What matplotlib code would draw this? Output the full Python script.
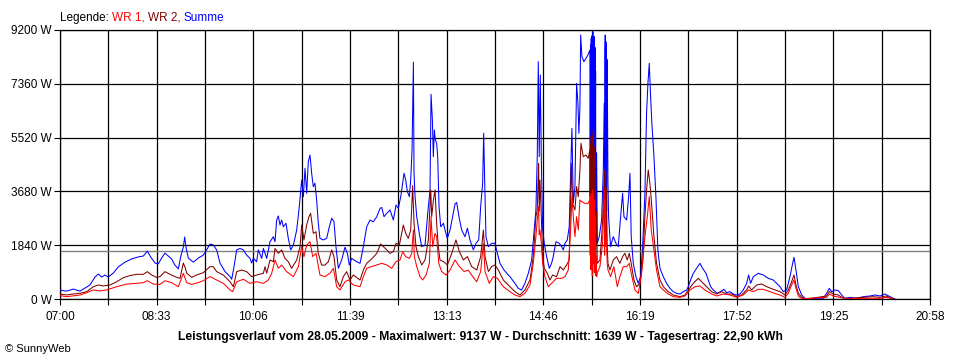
import matplotlib
matplotlib.use('Agg')
import matplotlib.pyplot as plt
import numpy as np

plt.rcParams['font.family'] = ['Liberation Sans', 'DejaVu Sans']
plt.rcParams['font.size'] = 8.5

# ---- data (minutes after 07:00, W) ----
t_sum = [0, 6.4, 12.8, 19.3, 24.1, 28.9, 33.7, 36.9, 40.1, 43.3, 46.5, 51.4, 56.2, 62.6, 69.0, 75.4, 80.3, 84.1,
         87.3, 91.5, 94.7, 97.9, 101.1, 104.3, 107.5, 110.7, 114.0, 116.2, 118.8, 120.1, 121.3, 123.6, 128.4,
         133.2, 138.0, 141.2,
         144.5, 147.7, 150.9, 154.1, 159.0, 163.8, 165.4, 167.6, 170.2, 173.4, 176.6, 179.8, 183.0, 184.6, 186.2,
         189.4, 191.0, 194.3, 195.9, 199.1, 202.3, 205.5, 207.1, 208.7, 210.3, 211.9, 213.5, 215.1, 217.7, 219.9,
         222.2, 224.8, 228.0, 230.5, 232.8, 234.4, 236.0, 237.6, 239.2, 240.8, 242.4, 244.0, 245.6, 247.2, 248.8,
         250.4, 253.6, 256.9, 259.4, 261.7, 263.9, 265.8, 268.1, 271.3, 274.5, 276.8, 278.7, 280.9, 285.7,
         289.0, 292.2, 295.4, 298.6, 301.8, 305.1, 308.3, 309.9, 312.1, 314.7, 317.9, 321.1, 323.7, 325.9, 328.2,
         330.1, 331.4, 333.0, 334.6, 336.5, 337.8, 339.1, 339.7, 340.4, 341.0, 342.0, 343.6, 346.1, 348.4, 351.6,
         354.8, 356.4, 357.4, 358.7, 359.6, 360.6, 361.5, 362.8, 363.8, 365.1, 366.7, 369.3, 370.9, 373.1, 375.7,
         378.2, 380.5, 382.1, 384.3, 386.9, 390.1, 392.4, 394.9, 398.1, 400.7, 403.3, 405.2, 407.1, 408.1, 409.1,
         410.3, 412.6, 415.8, 419.0, 421.3, 423.8, 427.7, 431.8,
         433.4, 438.2, 441.4, 444.6, 447.8, 451.1, 454.3, 456.5, 458.4, 459.7, 460.7, 461.6, 462.6, 463.6, 464.9,
         466.5, 468.7, 471.3, 473.5, 475.1, 477.7, 480.9, 483.2, 484.8, 486.4, 488.6, 490.5, 492.1, 493.1, 494.4,
         496.0, 497.6, 498.9, 499.8, 500.8, 501.5, 502.7, 504.7, 506.6, 508.5,
         510.4, 510.7, 511.1, 511.4, 511.7, 512.0, 512.4, 512.7, 513.0, 513.3, 513.7, 514.0, 514.3, 514.6, 515.0,
         515.3, 515.6, 515.9, 516.2, 516.9, 517.5, 519.4, 521.7, 523.3,
         524.2, 524.6, 524.9, 525.2, 525.5, 525.8, 526.2, 526.5, 526.8, 527.1, 527.8, 528.4,
         530.3, 532.9, 535.5, 537.7, 540.0, 541.9, 543.2, 545.8, 547.7, 549.0, 550.2, 552.2, 554.7, 557.0, 559.2,
         561.2, 563.4, 565.0, 566.3, 567.6, 568.9, 570.1, 572.1, 574.0, 575.9,
         577.9, 581.1, 584.3, 587.5, 590.7, 594.0, 597.2, 600.4, 603.6, 605.2, 607.4, 610.0, 613.2, 616.4, 619.0,
         622.2, 624.4, 626.7, 629.3, 633.1, 636.3, 639.5, 642.1, 645.3, 648.5, 651.7, 654.9, 658.1, 661.4, 663.3,
         665.2, 667.8, 672.6, 677.4, 682.2, 687.0, 690.2,
         693.5, 696.7, 699.9, 703.1, 705.7, 707.0, 708.9, 711.2, 714.4, 717.6, 722.4, 728.8, 735.2, 738.4, 741.0,
         743.3, 746.5, 749.7, 752.9, 756.1, 760.9, 767.3, 773.8, 780.2, 785.0, 789.8, 794.6, 799.4, 804.2]
p_sum = [300, 270, 340, 270, 375, 480, 750, 855, 750, 820, 750, 890, 1100, 1260, 1370, 1440, 1470, 1640,
         1440, 1230, 1200, 1400, 1570, 1470, 1370, 1160, 1030, 1440, 1780, 2120, 1780, 1400, 1260,
         1400, 1500, 1680,
         1880, 1845, 1680, 1230, 935, 765, 675, 1105, 1680, 1730, 1680, 1500, 1390, 1230, 1390,
         1275, 1680, 1390, 1730, 1390, 1960, 2130, 1960, 2700, 2840, 2530, 2700, 2470, 2590, 2075,
         1680, 1845, 2360, 3160, 4070, 3500, 4470, 3615, 4700, 4925, 4300, 3840, 3960, 3390, 2590,
         2075, 2020, 2075, 2470, 2760, 2650, 1790, 1050, 1335, 1770, 1560, 1160, 1390, 1275,
         1220, 1790, 2470, 2700, 2640, 2815, 3100, 3130, 2815, 2930, 3045, 2700, 3215, 3100, 3500,
         3960, 4300, 4070, 3670, 3500, 4070, 5100, 6460, 8100, 4300, 3500, 2815, 2245, 1790, 1845,
         3160, 3730, 7000, 6120, 4870, 5780, 5440, 5330, 4870, 3160, 2470, 2590, 2360, 2075, 2360,
         2815, 3250, 3300, 2815, 2360, 2130, 2420, 2020, 1680, 1905, 2020, 3160, 3960, 5670, 3960,
         2130, 1790, 1905, 1905, 1560, 1220, 990, 820,
         764, 536, 365, 308, 536, 878, 1334, 2246, 3044, 4868, 8117, 4868, 7661, 4868, 2360,
         1904, 1448, 1049, 1220, 1448, 1961, 1904, 1790, 1676, 1904, 2018, 2474, 4640, 5837, 3272,
         3842, 7376, 6692, 5666, 6578, 9029, 8288, 8117, 8231, 8345,
         8516, 3500, 8700, 2500, 8915, 4640, 9000, 2000, 8800, 9137, 1800, 8400, 3500, 8972, 2200,
         8600, 4184, 7800, 1904, 5000, 1904, 2132, 2702, 4412,
         6692, 3000, 8500, 9029, 2500, 8800, 8516, 3000, 8200, 8060, 4000, 2816,
         1790, 2132, 1904, 1790, 2816, 3614, 2816, 2702, 3500, 4298, 2132, 1220, 764, 536, 764,
         1790, 3614, 6350, 7376, 8060, 6920, 6008, 4868, 3500, 1676,
         1049, 764, 536, 365, 251, 194, 171, 251, 308, 422, 650, 878, 1049, 1220, 1049,
         878, 650, 422, 308, 194, 251, 331, 217, 251, 171, 137, 171, 308, 536, 821,
         536, 764, 878, 821, 707, 650, 536,
         422, 251, 308, 764, 1220, 1425, 992, 422, 137, 23, 0, 23, 23, 194, 365,
         251, 308, 285, 137, 23, 57, 23, 80, 103, 137, 103, 171, 80, 0]

t_wr2 = [0, 6.4, 12.8, 19.3, 25.7, 32.1, 36.9, 41.7, 48.2, 54.6, 61.0, 67.4, 73.8, 80.3, 84.1, 88.3, 93.1,
         96.3, 101.1, 105.9, 110.7, 115.6, 118.8, 120.7, 122.0, 126.8, 131.6, 138.0,
         144.5, 147.7, 150.9, 157.3, 163.8, 167.0, 170.2, 175.0, 179.8, 184.6,
         189.4, 195.9, 197.5, 199.1, 202.3, 205.5, 207.1, 210.3, 213.5, 216.7,
         219.9, 223.1, 228.0, 231.2, 232.8, 235.0, 237.6, 239.8, 241.4, 244.0,
         246.6, 248.8, 252.0, 255.2, 258.5, 261.7, 263.9, 266.5, 269.7, 272.9,
         276.1, 279.3, 282.5,
         289.0, 292.2, 295.4, 300.2, 305.1, 308.9, 311.5, 314.7, 317.9, 321.1,
         323.7, 326.9, 329.1, 330.7, 333.0, 335.5, 337.8, 339.7, 341.0, 342.9,
         345.2, 348.4, 351.6, 354.8, 357.1, 358.0, 359.6, 361.2, 362.8, 364.4,
         366.0, 369.3, 373.1, 377.3, 381.4, 384.7, 388.5, 392.4, 396.5, 401.4,
         405.2, 407.8, 409.4, 412.6, 415.8, 419.0, 422.2, 427.0,
         433.4, 438.2, 443.0, 447.8, 452.7, 455.9, 458.4, 459.7, 461.0, 461.6, 462.3, 463.6, 464.9, 466.5,
         469.4, 471.9, 474.5, 478.3, 481.6, 484.8, 488.0, 490.5, 492.5, 493.7, 496.0, 497.6, 499.2, 500.8,
         501.8, 504.0, 506.6, 508.8,
         510.4, 510.7, 511.1, 511.4, 511.7, 512.0, 512.4, 512.7, 513.0, 513.3, 513.7, 514.0, 514.3, 514.6,
         515.0, 515.3, 515.6, 515.9, 516.2, 516.9, 517.5, 520.1, 522.6,
         524.2, 524.6, 524.9, 525.2, 525.5, 525.8, 526.2, 526.5, 527.1, 527.8,
         529.7, 532.9, 536.1, 539.3, 541.9, 544.1, 546.4, 548.3, 550.2, 552.8, 555.4, 558.6, 561.2, 563.4,
         565.0, 566.6, 568.2, 569.8, 572.1, 574.6,
         577.9, 581.1, 585.9, 590.7, 597.2, 602.0, 605.2, 610.0, 614.8, 618.0, 622.8, 627.6, 632.5, 637.3,
         642.1, 646.9, 651.7, 656.5, 661.4, 663.3, 666.2, 671.0, 675.8, 680.6, 687.0,
         693.5, 698.3, 701.5, 704.7, 707.0, 708.9, 711.2, 714.4, 719.2, 738.4, 741.0, 744.9, 749.7, 754.5,
         760.9, 773.8, 783.4, 789.8, 795.6, 801.0, 804.2]
p_wr2 = [170, 140, 170, 195, 250, 420, 480, 445, 480, 590, 730, 800, 845, 845, 935, 820, 740,
         765, 935, 845, 765, 705, 1230, 1060, 890, 740, 820, 900,
         1105, 1105, 935, 820, 590, 420, 935, 990, 935, 765,
         820, 880, 1105, 880, 1335, 1275, 1730, 1560, 1680, 1390,
         1275, 1050, 1335, 1790, 2530, 2020, 2530, 2815, 2930, 2245,
         2300, 1560, 1160, 1160, 1275, 1680, 1450, 650, 420, 765,
         935, 650, 820,
         650, 990, 1220, 1370, 1560, 1880, 1790, 1680, 1560, 1620,
         1905, 1845, 2245, 2530, 2245, 2075, 2360, 3875, 2590, 1790,
         1450, 1165, 1335, 2020, 3730, 2815, 3360, 3730, 2590, 1790,
         1335, 1280, 1165, 1560, 2020, 1620, 1335, 1450, 1110, 990,
         1450, 2360, 1450, 940, 1110, 1165, 990, 650,
         422, 251, 137, 308, 650, 1448, 2816, 3044, 4640, 3000, 4070, 2816, 1448, 1049,
         878, 650, 821, 764, 1106, 992, 1163, 1334, 4640, 3272, 3044, 3842, 3500, 4412,
         5324, 4868, 4925, 4811,
         5096, 2000, 5300, 1500, 5552, 2500, 5400, 1220, 5600, 1500, 5780, 2000, 5200, 1790,
         4800, 2360, 4200, 1500, 2360, 3000, 1220, 1334, 2588,
         4298, 2000, 4412, 2500, 4300, 2000, 3800, 3272, 1800, 1220,
         992, 1334, 1448, 1220, 1448, 1562, 1334, 1562, 1220, 650, 422, 536, 1220, 2816,
         3728, 4412, 3956, 3272, 2132, 1220,
         650, 422, 251, 137, 80, 137, 308, 536, 707, 593, 422, 251, 171, 251,
         171, 171, 80, 137, 308, 445, 308, 479, 513, 422, 331,
         251, 137, 308, 593, 821, 479, 194, 57, 0, 103, 251, 171, 137, 23,
         23, 57, 80, 57, 103, 23, 0]

t_wr1 = [0, 6.4, 19.3, 25.7, 32.1, 38.5, 44.9, 54.6, 64.2, 73.8, 80.3, 84.1, 89.9, 96.3, 101.1, 107.5,
         114.0, 118.8, 122.0, 126.8, 133.2, 138.0,
         144.5, 150.9, 157.3, 163.8, 166.3, 170.2, 176.6, 183.0, 189.4, 195.9,
         200.7, 203.9, 207.1, 210.3, 213.5, 218.3, 224.8, 229.6, 232.8, 235.0,
         237.6, 240.8, 243.4, 246.6, 250.4, 255.2, 260.1, 263.3, 266.5, 269.7,
         274.5, 277.7, 282.5,
         289.0, 292.2, 295.4, 300.2, 305.1, 309.9, 314.7, 319.5, 323.7, 327.5,
         330.1, 333.0, 336.5, 338.8, 340.4, 341.3, 343.6, 346.8, 349.3, 352.6,
         355.8, 357.4, 359.0, 361.2, 362.8, 364.8, 367.6, 371.8, 375.7, 380.5,
         384.7, 389.2, 393.3, 397.5, 401.4, 405.2, 407.8, 409.4, 413.5, 417.4,
         421.3, 427.0,
         433.4, 438.2, 443.0, 447.8, 452.7, 455.9, 458.4, 459.7, 461.0, 461.6, 462.3, 463.6, 464.9, 467.1,
         470.3, 473.5, 478.3, 483.2, 486.4, 489.6, 491.8, 493.1, 494.4, 496.0, 497.6, 499.2, 500.8, 502.4,
         505.6, 508.8,
         510.4, 510.7, 511.1, 511.4, 511.7, 512.0, 512.4, 512.7, 513.0, 513.3, 513.7, 514.0, 514.3, 514.6,
         515.0, 515.3, 515.6, 515.9, 516.2, 516.9, 517.5, 520.1, 522.6,
         524.2, 524.6, 524.9, 525.2, 525.5, 525.8, 526.5, 527.1, 527.8,
         530.3, 533.5, 536.8, 539.3, 542.5, 545.8, 548.3, 550.9, 553.8, 557.0, 560.2, 563.4, 565.7, 567.6,
         569.5, 572.1, 574.6,
         577.9, 581.1, 585.9, 590.7, 597.2, 602.0, 606.8, 611.6, 616.4, 621.2, 627.6, 632.5, 638.9, 645.3,
         651.7, 658.1, 663.3, 667.8, 672.6, 677.4, 683.8, 690.2,
         693.5, 698.3, 701.5, 704.7, 707.0, 708.9, 711.2, 714.4, 738.4, 741.0, 744.9, 751.3, 757.7, 773.8,
         789.8, 796.2, 802.6]
p_wr1 = [115, 80, 135, 215, 310, 275, 310, 420, 510, 535, 560, 625, 510, 500, 625, 560,
         420, 880, 560, 500, 560, 625,
         765, 650, 535, 310, 250, 590, 675, 535, 590, 535,
         650, 880, 1335, 1050, 1160, 935, 765, 1105, 1790, 1450,
         1845, 1960, 1450, 1560, 820, 765, 880, 1050, 420, 310,
         590, 650, 480,
         420, 765, 1050, 1110, 1165, 1220, 1165, 1050, 1280, 1335,
         1620, 1450, 1390, 1560, 2360, 1450, 1110, 765, 650, 820,
         1220, 2815, 1790, 2245, 2130, 1220, 940, 820, 990, 1335,
         1110, 940, 990, 765, 590, 940, 1905, 940, 535, 765,
         710, 420,
         251, 137, 80, 194, 479, 1220, 2132, 2702, 3158, 2200, 2360, 1904, 1220, 764,
         422, 536, 707, 707, 764, 992, 2360, 3500, 2816, 2132, 2816, 2360, 3386, 3329,
         3272, 3272,
         3400, 1500, 3500, 1000, 3600, 1790, 3500, 800, 3728, 1200, 3600, 1220, 3400, 900,
         3000, 1904, 2800, 800, 1500, 764, 900, 1106, 1904,
         3728, 1500, 3400, 1800, 3000, 2360, 1800, 1200, 992,
         764, 1106, 422, 764, 1106, 1106, 1220, 764, 308, 194, 878, 2132, 2816, 3500,
         2360, 1676, 992,
         422, 308, 171, 80, 57, 103, 308, 422, 445, 308, 171, 103, 171, 137,
         57, 137, 308, 251, 331, 331, 251, 171,
         137, 57, 194, 479, 650, 365, 103, 11, 57, 171, 103, 57, 0, 23,
         23, 57, 0]

durchschnitt = 1639
y_ticks = [0, 1840, 3680, 5520, 7360, 9200]
x_labels = ['07:00', '08:33', '10:06', '11:39', '13:13', '14:46', '16:19', '17:52', '19:25', '20:58']
t_end = 838

# ---- figure ----
fig = plt.figure(figsize=(9.6, 3.6), dpi=100)
ax = fig.add_axes([60/960, 1-299/360, 870/960, 269/360])

lw = 0.75
ax.axhline(durchschnitt, color='#808080', lw=1.0, zorder=1.5)
ax.plot(t_sum, p_sum, color='#0000ff', lw=lw, zorder=3)
ax.plot(t_wr2, p_wr2, color='#800000', lw=lw, zorder=4)
ax.plot(t_wr1, p_wr1, color='#ff0000', lw=lw, zorder=5)

ax.set_xlim(0, t_end)
ax.set_ylim(0, 9200)
ax.set_yticks(y_ticks)
ax.set_yticklabels(['%d W' % v for v in y_ticks])
ax.set_xticks(np.linspace(0, t_end, len(x_labels)))
ax.set_xticklabels(x_labels)
ax.set_xticks(np.linspace(0, t_end, 2*len(x_labels)-1), minor=True)
ax.tick_params(axis='both', which='both', direction='out', length=4, width=0.8, color='black', labelsize=8.5)
ax.tick_params(axis='x', pad=5)
ax.tick_params(axis='y', pad=2)
ax.grid(True, which='both', color='black', lw=0.9, zorder=1)
ax.set_axisbelow(True)
for s in ax.spines.values():
    s.set_color('black')
    s.set_linewidth(0.9)

# legend text
fig.canvas.draw()
r = fig.canvas.get_renderer()
x0 = 60/960
for txt, col in [('Legende: ', 'black'), ('WR 1, ', '#ff0000'), ('WR 2, ', '#800000'), ('Summe', '#0000ff')]:
    t = fig.text(x0, 1-18/360, txt, color=col, fontsize=8.5, va='center', ha='left')
    bb = t.get_window_extent(renderer=r)
    x0 += bb.width/960

fig.text(0.5, 1-337/360,
         'Leistungsverlauf vom 28.05.2009 - Maximalwert: 9137 W - Durchschnitt: 1639 W - Tagesertrag: 22,90 kWh',
         ha='center', va='center', fontsize=8.7, fontweight='bold')
fig.text(5/960, 1-349/360, '\u00a9 SunnyWeb', ha='left', va='center', fontsize=8)

fig.savefig('out.png', dpi=100)
